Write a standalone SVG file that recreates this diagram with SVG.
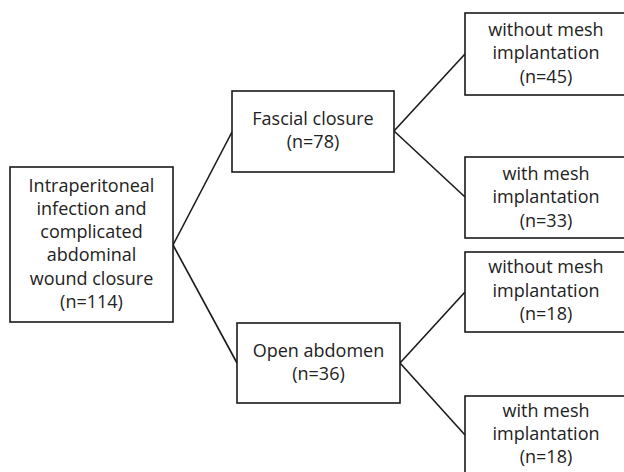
<svg xmlns="http://www.w3.org/2000/svg" width="624" height="472" viewBox="0 0 624 472">
<style>
.box{fill:#fff;stroke:#1a1a1a;stroke-width:1.6}
.t{font-family:"Open Sans","Noto Sans",sans-serif;font-size:18px;fill:#222;text-anchor:middle}
.c{fill:none;stroke:#1a1a1a;stroke-width:1.6}
</style>
<rect width="624" height="472" fill="#fff"/>
<g id="connectors">
<line class="c" x1="173" y1="245" x2="232" y2="132"/>
<line class="c" x1="173" y1="245" x2="237" y2="363"/>
<line class="c" x1="394" y1="131" x2="465" y2="54"/>
<line class="c" x1="394" y1="131" x2="465" y2="197"/>
<line class="c" x1="400" y1="363" x2="465" y2="292"/>
<line class="c" x1="400" y1="363" x2="465" y2="435"/>
</g>
<g id="root">
<rect class="box" x="10" y="167" width="163" height="155"/>
<text class="t" x="91.5" y="192">Intraperitoneal</text>
<text class="t" x="91.5" y="215">infection and</text>
<text class="t" x="91.5" y="238">complicated</text>
<text class="t" x="91.5" y="261">abdominal</text>
<text class="t" x="91.5" y="285">wound closure</text>
<text class="t" x="91.5" y="308">(n=114)</text>
</g>
<g id="fascial">
<rect class="box" x="232" y="91" width="162" height="81"/>
<text class="t" x="313" y="125">Fascial closure</text>
<text class="t" x="313" y="148">(n=78)</text>
</g>
<g id="open">
<rect class="box" x="237" y="323" width="163" height="80"/>
<text class="t" x="318.5" y="357">Open abdomen</text>
<text class="t" x="318.5" y="380">(n=36)</text>
</g>
<g id="fc-without">
<rect class="box" x="465" y="13" width="162" height="82"/>
<text class="t" x="546" y="36">without mesh</text>
<text class="t" x="546" y="59">implantation</text>
<text class="t" x="546" y="83">(n=45)</text>
</g>
<g id="fc-with">
<rect class="box" x="465" y="157" width="162" height="81"/>
<text class="t" x="546" y="180">with mesh</text>
<text class="t" x="546" y="203">implantation</text>
<text class="t" x="546" y="227">(n=33)</text>
</g>
<g id="oa-without">
<rect class="box" x="465" y="252" width="162" height="80"/>
<text class="t" x="546" y="273">without mesh</text>
<text class="t" x="546" y="297">implantation</text>
<text class="t" x="546" y="320">(n=18)</text>
</g>
<g id="oa-with">
<rect class="box" x="465" y="396" width="162" height="80"/>
<text class="t" x="546" y="417">with mesh</text>
<text class="t" x="546" y="440">implantation</text>
<text class="t" x="546" y="463">(n=18)</text>
</g>
</svg>
